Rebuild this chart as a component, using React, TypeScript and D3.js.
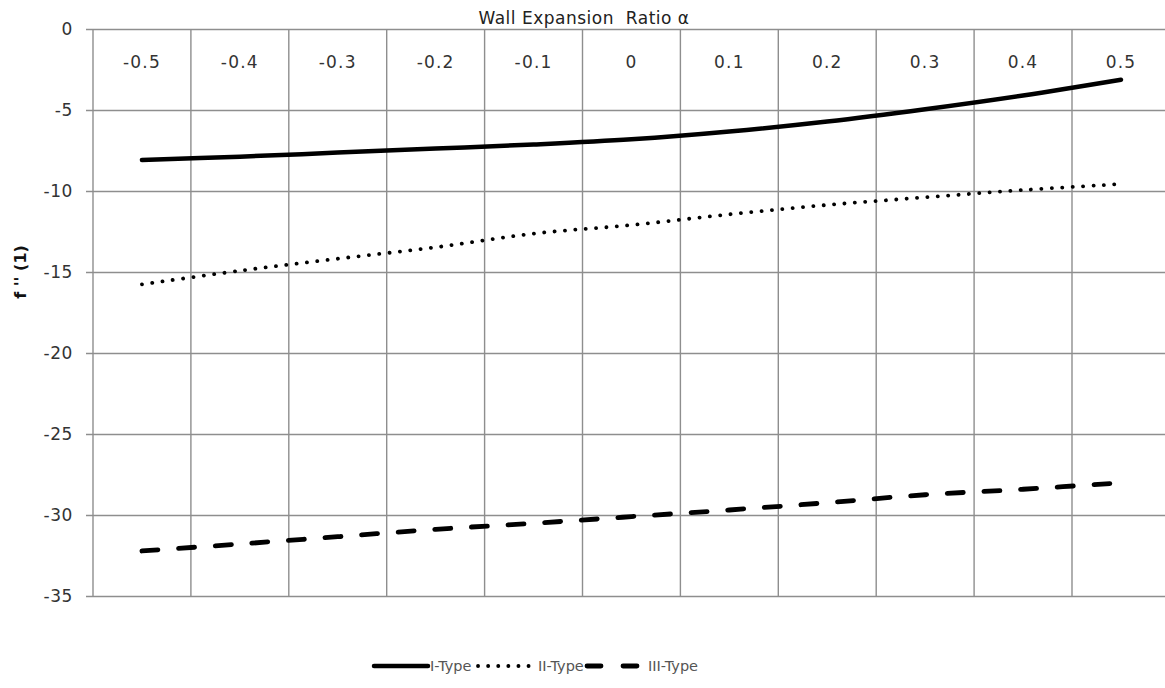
import React from "react";
import * as d3 from "d3";

// wall expansion ratio (category axis)
const alphas = ["-0.5", "-0.4", "-0.3", "-0.2", "-0.1", "0", "0.1", "0.2", "0.3", "0.4", "0.5"];

// f''(1) values
const typeI = [-8.05, -7.85, -7.6, -7.35, -7.1, -6.78, -6.3, -5.68, -4.92, -4.07, -3.1];
const typeII = [-15.73, -14.89, -14.15, -13.44, -12.6, -12.07, -11.41, -10.83, -10.36, -9.91, -9.54];
const typeIII = [-32.19, -31.76, -31.31, -30.85, -30.48, -30.07, -29.66, -29.21, -28.72, -28.38, -27.98];

const yTicks = [0, -5, -10, -15, -20, -25, -30, -35];

const seriesNames = ["I-Type", "II-Type", "III-Type"];

const W = 1165;
const H = 688;
const font = "'DejaVu Sans', Verdana, sans-serif";

const App = () => {
  const x = d3.scaleBand<string>()
    .domain(alphas)
    .range([93, 93 + 11 * 97.9]);
  const y = d3.scaleLinear().domain([-35, 0]).range([596.5, 29.5]);

  const cx = (c: string) => (x(c) as number) + x.bandwidth() / 2;

  const line = d3.line<number>()
    .x((d, i) => cx(alphas[i]))
    .y(d => y(d))
    .curve(d3.curveCatmullRom.alpha(0.5));

  // line styles for each series
  const styles = [
    { width: 4.5, dash: null as string | null, cap: "round" },
    { width: 3.8, dash: "0.1 10.3", cap: "round" },
    { width: 4.8, dash: "16 20.7", cap: "round" },
  ];
  const data = [typeI, typeII, typeIII];

  const gridX = [...alphas.map(c => x(c) as number), x.range()[1]];

  const legendX = [372, 476, 585];
  const gridColor = "#8e8e8e";

  return (
    <svg width={W} height={H} style={{ position: "absolute", left: 0, top: 0, background: "#fff" }}>
      {/* horizontal gridlines + ticks */}
      {yTicks.map(t => (
        <g key={t}>
          <line x1={86} x2={x.range()[1]} y1={y(t)} y2={y(t)} stroke={gridColor} strokeWidth={1.4} />
          <text x={73} y={y(t)} dy="0.35em" textAnchor="end" fontSize={17} fontFamily={font}
            fill="#333" letterSpacing={0.6}>
            {t}
          </text>
        </g>
      ))}
      {/* vertical gridlines at category boundaries */}
      {gridX.map((gx, i) => (
        <line key={i} x1={gx} x2={gx} y1={y(0)} y2={y(-35)} stroke={gridColor} strokeWidth={1.4} />
      ))}
      {/* category labels sit inside the plot at the top */}
      {alphas.map(c => (
        <text key={c} x={cx(c)} y={62} dy="0.35em" textAnchor="middle" fontSize={17}
          fontFamily={font} fill="#333" letterSpacing={1.2}>
          {c}
        </text>
      ))}
      <text x={584} y={18} dy="0.35em" textAnchor="middle" fontSize={17} fontFamily={font}
        fill="#222" letterSpacing={0.5} style={{ whiteSpace: "pre" }}>
        {"Wall Expansion  Ratio α"}
      </text>
      <text transform={`translate(20,272) rotate(-90)`} textAnchor="middle" dy="0.35em"
        fontSize={16} fontWeight="bold" fontFamily={font} fill="#111" style={{ whiteSpace: "pre" }}>
        {"f '' (1)"}
      </text>

      {/* series */}
      {data.map((s, i) => (
        <path key={seriesNames[i]} d={line(s) ?? ""} fill="none" stroke="#000"
          strokeWidth={styles[i].width} strokeLinecap={styles[i].cap as any}
          strokeDasharray={styles[i].dash ?? undefined} />
      ))}

      {/* legend */}
      {seriesNames.map((n, i) => (
        <g key={n} transform={`translate(${legendX[i]},666)`}>
          <line x1={2} x2={56} y1={0} y2={0} stroke="#000" strokeWidth={styles[i].width}
            strokeLinecap={styles[i].cap as any}
            strokeDasharray={i === 1 ? "0.1 10" : i === 2 ? "14 22" : undefined} />
          <text x={i === 0 ? 58 : i === 1 ? 62 : 63} y={0} dy="0.35em" fontSize={14.5}
            fontFamily={font} fill="#555">
            {n}
          </text>
        </g>
      ))}
    </svg>
  );
};

export default App;
